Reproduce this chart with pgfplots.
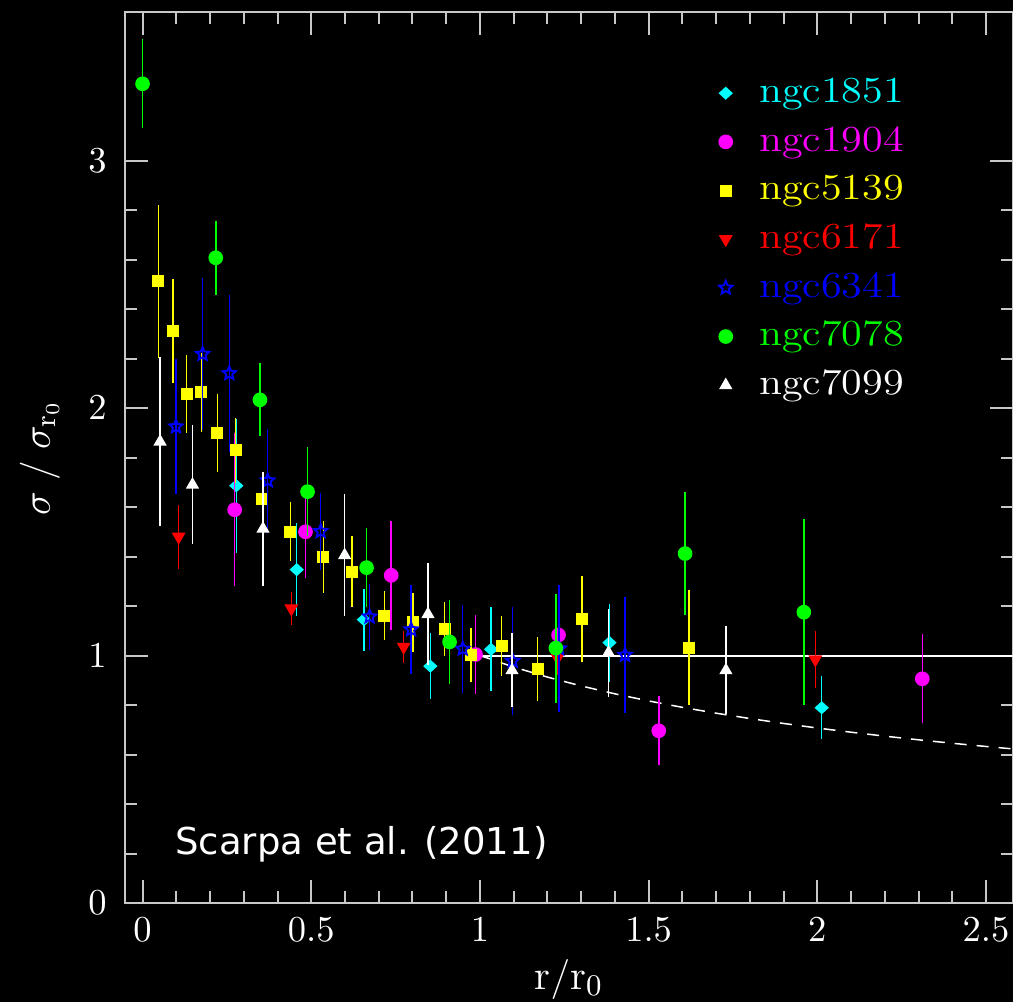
\documentclass[border=0pt]{standalone}
\usepackage{fontspec}
\usepackage{graphicx}
\usepackage{pgfplots}
\pgfplotsset{compat=1.18}
\newfontfamily\dejavu{DejaVu Sans}
\definecolor{axgray}{RGB}{200,200,200}
\definecolor{cCyan}{RGB}{0,255,255}
\definecolor{cMag}{RGB}{255,0,255}
\definecolor{cYel}{RGB}{255,255,0}
\definecolor{cRed}{RGB}{255,0,0}
\definecolor{cBlue}{RGB}{0,0,255}
\definecolor{cGreen}{RGB}{0,255,0}
\definecolor{cWhite}{RGB}{255,255,255}
\pgfdeclareplotmark{ostar}{%
  \pgfpathmoveto{\pgfpointpolar{90}{\pgfplotmarksize}}%
  \pgfpathlineto{\pgfpointpolar{126}{0.45\pgfplotmarksize}}%
  \pgfpathlineto{\pgfpointpolar{162}{\pgfplotmarksize}}%
  \pgfpathlineto{\pgfpointpolar{198}{0.45\pgfplotmarksize}}%
  \pgfpathlineto{\pgfpointpolar{234}{\pgfplotmarksize}}%
  \pgfpathlineto{\pgfpointpolar{270}{0.45\pgfplotmarksize}}%
  \pgfpathlineto{\pgfpointpolar{306}{\pgfplotmarksize}}%
  \pgfpathlineto{\pgfpointpolar{342}{0.45\pgfplotmarksize}}%
  \pgfpathlineto{\pgfpointpolar{18}{\pgfplotmarksize}}%
  \pgfpathlineto{\pgfpointpolar{54}{0.45\pgfplotmarksize}}%
  \pgfpathclose
  \pgfusepathqstroke}
\pgfplotsset{eb/.style={only marks, error bars/y dir=both, error bars/y explicit, error bars/error mark=none, error bars/error bar style={line width=0.45pt}}}
\newcommand{\lgd}[2]{\textcolor{#1}{\scalebox{1.15}[1]{#2}}}

\pgfplotstableread{
x y e
0.278 1.686 0.27
0.457 1.347 0.187
0.656 1.145 0.125
0.853 0.957 0.132
1.033 1.025 0.17
1.384 1.052 0.157
2.013 0.789 0.127
}\ngcA
\pgfplotstableread{
x y e
0.273 1.589 0.31
0.483 1.500 0.185
0.737 1.324 0.22
0.987 1.004 0.16
1.233 1.083 0.19
1.530 0.696 0.14
2.311 0.906 0.18
}\ngcB
\pgfplotstableread{
x y e
0.047 2.512 0.31
0.090 2.313 0.21
0.131 2.058 0.157
0.174 2.063 0.16
0.222 1.899 0.157
0.276 1.829 0.13
0.355 1.632 0.11
0.438 1.500 0.12
0.536 1.398 0.147
0.621 1.339 0.144
0.717 1.161 0.10
0.802 1.134 0.12
0.895 1.107 0.11
0.974 1.002 0.11
1.064 1.039 0.12
1.171 0.946 0.128
1.302 1.148 0.175
1.620 1.032 0.232
}\ngcC
\pgfplotstableread{
x y e
0.107 1.480 0.13
0.441 1.190 0.067
0.774 1.035 0.066
1.230 0.990 0.07
1.994 0.984 0.117
}\ngcD
\pgfplotstableread{
x y e
0.099 1.925 0.274
0.178 2.218 0.306
0.257 2.140 0.318
0.371 1.707 0.21
0.528 1.502 0.155
0.673 1.157 0.133
0.796 1.105 0.18
0.949 1.027 0.178
1.097 0.978 0.22
1.235 1.028 0.256
1.430 1.002 0.235
}\ngcE
\pgfplotstableread{
x y e
0.000 3.310 0.18
0.217 2.607 0.15
0.348 2.033 0.147
0.489 1.662 0.18
0.664 1.355 0.16
0.910 1.055 0.17
1.225 1.030 0.22
1.608 1.412 0.25
1.960 1.175 0.375
}\ngcF
\pgfplotstableread{
x y e
0.052 1.864 0.342
0.148 1.690 0.24
0.357 1.512 0.23
0.599 1.405 0.246
0.846 1.167 0.205
1.095 0.940 0.15
1.381 1.011 0.178
1.729 0.940 0.178
}\ngcG

\begin{document}
\begin{tikzpicture}
\fill[black] (-37.5pt,-29.7pt) rectangle (266.4pt,270.9pt);
\begin{axis}[
  at={(0pt,0pt)}, anchor=south west,
  scale only axis, width=266.4pt, height=267.3pt,
  clip mode=individual,
  xmin=-0.052, xmax=2.58, ymin=0, ymax=3.6,
  xtick={0,0.5,1,1.5,2,2.5}, ytick={0,1,2,3},
  minor x tick num=4, minor y tick num=4,
  xtick pos=both, ytick pos=both,
  xticklabel pos=left, yticklabel pos=left,
  tick align=inside,
  major tick length=6.9pt, minor tick length=3.6pt,
  tick style={axgray, line width=0.6pt},
  axis line style={axgray, line width=0.6pt},
  tick label style={font=\fontsize{11}{13}\selectfont, text=white},
  xticklabel style={yshift=-1pt},
  yticklabel style={xshift=-2pt},
  legend style={at={(axis description cs:0.657,0.933)}, anchor=north west, draw=none, fill=none, inner sep=0pt,
    font=\fontsize{11}{13}\selectfont, row sep=2.1pt, nodes={inner sep=1pt, text height=8pt, text depth=2.5pt}},
  legend cell align=left,
  legend image code/.code={\path[draw=none,fill=none] (0pt,-1pt) rectangle (14pt,1pt); \draw[mark repeat=2,mark phase=2,#1] plot coordinates {(0pt,0pt) (5pt,0pt) (10pt,0pt)};},
]
\addplot[forget plot, white, line width=0.6pt] coordinates {(1,1) (2.6,1)};
\addplot[forget plot, white, line width=0.45pt, dash pattern=on 3.6pt off 3pt] coordinates {
(1.0,1.0) (1.1,0.9535) (1.2,0.9129) (1.3,0.8771) (1.4,0.8452) (1.5,0.8165) (1.6,0.7906) (1.7,0.7670)
(1.8,0.7454) (1.9,0.7255) (2.0,0.7071) (2.1,0.6901) (2.2,0.6742) (2.3,0.6594) (2.4,0.6455) (2.5,0.6325) (2.6,0.6202)};

\addplot[eb, color=cCyan, mark=diamond*, mark size=1.7pt, mark options={xscale=1.45}] table[x=x,y=y,y error=e] {\ngcA};
\addlegendentry{\lgd{cCyan}{ngc1851}}
\addplot[eb, color=cMag, mark=*, mark size=2pt] table[x=x,y=y,y error=e] {\ngcB};
\addlegendentry{\lgd{cMag}{ngc1904}}
\addplot[eb, color=cYel, mark=square*, mark size=1.6pt] table[x=x,y=y,y error=e] {\ngcC};
\addlegendentry{\lgd{cYel}{ngc5139}}
\addplot[eb, color=cRed, mark=triangle*, mark size=2pt, mark options={rotate=180}] table[x=x,y=y,y error=e] {\ngcD};
\addlegendentry{\lgd{cRed}{ngc6171}}
\addplot[eb, color=cBlue, mark=ostar, mark size=2.1pt, mark options={line width=0.55pt}] table[x=x,y=y,y error=e] {\ngcE};
\addlegendentry{\lgd{cBlue}{ngc6341}}
\addplot[eb, color=cGreen, mark=*, mark size=2pt] table[x=x,y=y,y error=e] {\ngcF};
\addlegendentry{\lgd{cGreen}{ngc7078}}
\addplot[eb, color=cWhite, mark=triangle*, mark size=1.9pt] table[x=x,y=y,y error=e] {\ngcG};
\addlegendentry{\lgd{cWhite}{ngc7099}}

\node[anchor=base west, text=white, font=\dejavu\fontsize{11.1}{13}\selectfont, inner sep=0pt] at (axis description cs:0.056,0.054) {Scarpa et al. (2011)};
\node[anchor=center, text=white, font=\fontsize{12.5}{14}\selectfont, inner sep=0pt] at (axis description cs:0.5,-0.086) {$\mathrm{r}/\mathrm{r}_0$};
\node[anchor=center, rotate=90, text=white, font=\fontsize{12.5}{14}\selectfont, inner sep=0pt] at (axis description cs:-0.096,0.5) {$\sigma\;/\;\sigma_{\mathrm{r}_0}$};
\end{axis}
\pgfresetboundingbox
\path (-37.5pt,-29.7pt) rectangle (266.4pt,270.9pt);
\end{tikzpicture}
\end{document}
